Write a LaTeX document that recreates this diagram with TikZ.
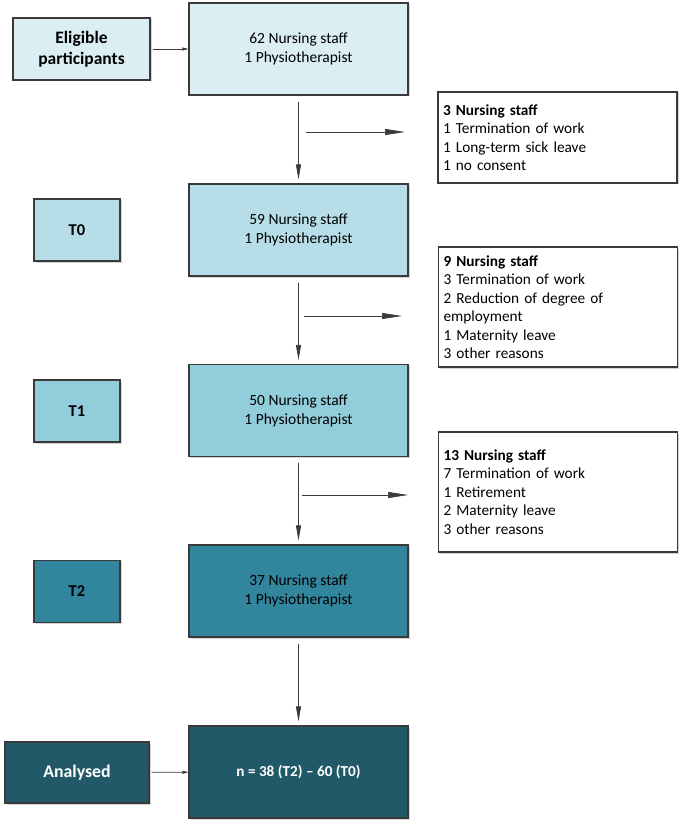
\documentclass[tikz,border=0pt]{standalone}
\usepackage{fontspec}
\setmainfont{Carlito}
\usetikzlibrary{arrows.meta,positioning,shadows}
\definecolor{aqua1}{HTML}{DAEEF3}
\definecolor{aqua2}{HTML}{B7DEE8}
\definecolor{aqua3}{HTML}{92CDDC}
\definecolor{aqua4}{HTML}{31859C}
\definecolor{aqua5}{HTML}{215968}
\definecolor{edge}{HTML}{3A3A3A}
\tikzstyle{box}=[draw=edge,line width=1.1pt,inner sep=0pt,align=center,
  drop shadow={shadow xshift=1.5pt,shadow yshift=-1.5pt,opacity=0.35},
  font=\fontsize{15.3}{18.5}\selectfont]
\tikzstyle{stage}=[box,minimum width=219pt,minimum height=92pt,font=\fontsize{15.5}{19}\selectfont]
\tikzstyle{tbox}=[box,minimum width=86pt,minimum height=62pt,font=\fontsize{16.5}{19}\selectfont\bfseries]
\tikzstyle{lost}=[box,fill=white,minimum width=239pt,inner xsep=5pt,text width=229pt,align=left]
\tikzstyle{flow}=[draw=edge,line width=0.7pt,-{Triangle[length=15pt,width=5pt]},shorten <=6pt,shorten >=4pt]
\tikzstyle{side}=[draw=edge,line width=0.7pt,-{Triangle[length=20pt,width=6pt]}]
\tikzstyle{feed}=[draw=edge,line width=0.7pt,-{Triangle[length=6pt,width=3pt]},shorten <=2pt]
\begin{document}
\begin{tikzpicture}[x=1pt,y=-1pt]
    \useasboundingbox (0,0) rectangle (685,826);
    
    % main column
    \node[stage,fill=aqua1] (n62) at (298.5,49)  {62 Nursing staff\\1 Physiotherapist};
    \node[stage,fill=aqua2] (n59) at (298.5,230) {59 Nursing staff\\1 Physiotherapist};
    \node[stage,fill=aqua3] (n50) at (298.5,410.5) {50 Nursing staff\\1 Physiotherapist};
    \node[stage,fill=aqua4] (n37) at (298.5,591) {37 Nursing staff\\1 Physiotherapist};
    \node[stage,fill=aqua5,text=white,font=\fontsize{15.2}{18}\selectfont\bfseries] (nfin) at (298.5,772) {n = 38 (T2) -- 60 (T0)};
    
    % left column
    \node[box,fill=aqua1,minimum width=137pt,minimum height=62pt,font=\fontsize{17.5}{21}\selectfont\bfseries] (elig) at (81.5,49) {Eligible\\participants};
    \node[tbox,fill=aqua2] (t0) at (77,230) {T0};
    \node[tbox,fill=aqua3] (t1) at (77,411) {T1};
    \node[tbox,fill=aqua4] (t2) at (77,591.5) {T2};
    \node[box,fill=aqua5,text=white,minimum width=144pt,minimum height=61pt,font=\fontsize{17.8}{19}\selectfont\bfseries] (anl) at (77,772.5) {Analysed};
    
    % drop outs
    \node[lost,minimum height=91pt] (out1) at (557.5,137.5) {\textbf{3 Nursing staff}\\1 Termination of work\\1 Long-term sick leave\\1 no consent};
    \node[lost,minimum height=120pt] (out2) at (558,307) {\textbf{9 Nursing staff}\\3 Termination of work\\2 Reduction of degree of\\employment\\1 Maternity leave\\3 other reasons};
    \node[lost,minimum height=120pt] (out3) at (558,492) {\textbf{13 Nursing staff}\\7 Termination of work\\1 Retirement\\2 Maternity leave\\3 other reasons};
    
    \coordinate (s1a) at (306,132);
    \coordinate (s1b) at (405,132);
    \coordinate (s2a) at (304,316);
    \coordinate (s2b) at (402,316);
    \coordinate (s3a) at (302,495);
    \coordinate (s3b) at (408,495);
    
    \path (n62) edge [flow] (n59)
    (n59) edge [flow] (n50)
    (n50) edge [flow] (n37)
    (n37) edge [flow] (nfin);
    
    \path (elig) edge [feed] (n62)
    (anl) edge [feed] (nfin);
    
    \path (s1a) edge [side] (s1b)
    (s2a) edge [side] (s2b)
    (s3a) edge [side] (s3b);
    
\end{tikzpicture}
\end{document}
